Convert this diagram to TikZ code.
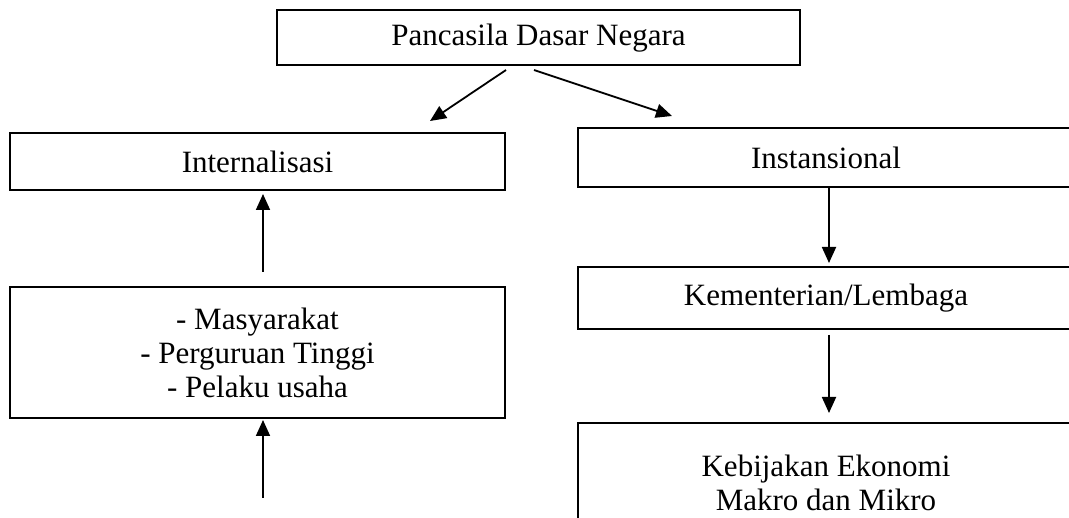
\documentclass[tikz,border=0pt]{standalone}
\usepackage{fontspec}
\setmainfont{Liberation Serif}
\usetikzlibrary{arrows.meta}
\begin{document}
\begin{tikzpicture}[x=1pt,y=-1pt,
  box/.style={draw=black,line width=2pt,rectangle,inner sep=0pt,align=center,
    font=\fontsize{31}{34}\selectfont},
  arr/.style={line width=1.8pt,-{Triangle[length=16pt,width=14pt]}}]
\useasboundingbox (0,0) rectangle (1069,518);
\clip (0,0) rectangle (1069,518);
\fill[white] (0,0) rectangle (1069,518);
% boxes
\node[box,minimum width=523pt,minimum height=55pt] (top) at (538.5,38) {Pancasila Dasar Negara};
\node[box,minimum width=495pt,minimum height=57pt] (int) at (257.5,161.5) {Internalisasi};
\node[box,minimum width=496pt,minimum height=59pt] (ins) at (826,157.5) {Instansional};
\node[box,minimum width=496pt,minimum height=62pt] (kem) at (826,298) {Kementerian/Lembaga};
\node[box,minimum width=495pt,minimum height=131pt] (mas) at (257.5,352.5) {- Masyarakat\\- Perguruan Tinggi\\- Pelaku usaha};
\node[box,minimum width=496pt,minimum height=120pt] (keb) at (826,483) {Kebijakan Ekonomi\\Makro dan Mikro};
% connector end points
\coordinate (a1s) at (506,70);
\coordinate (a1e) at (430,121);
\coordinate (a2s) at (534,70);
\coordinate (a2e) at (672,116);
\coordinate (a3s) at (263,272);
\coordinate (a3e) at (263,194);
\coordinate (a4s) at (263,498);
\coordinate (a4e) at (263,420);
\coordinate (a5s) at (829,187);
\coordinate (a5e) at (829,263);
\coordinate (a6s) at (829,335);
\coordinate (a6e) at (829,413);
% connectors
\draw[arr] (a1s) -- (a1e);
\draw[arr] (a2s) -- (a2e);
\draw[arr] (a3s) -- (a3e);
\draw[arr] (a4s) -- (a4e);
\draw[arr] (a5s) -- (a5e);
\draw[arr] (a6s) -- (a6e);
\end{tikzpicture}
\end{document}
